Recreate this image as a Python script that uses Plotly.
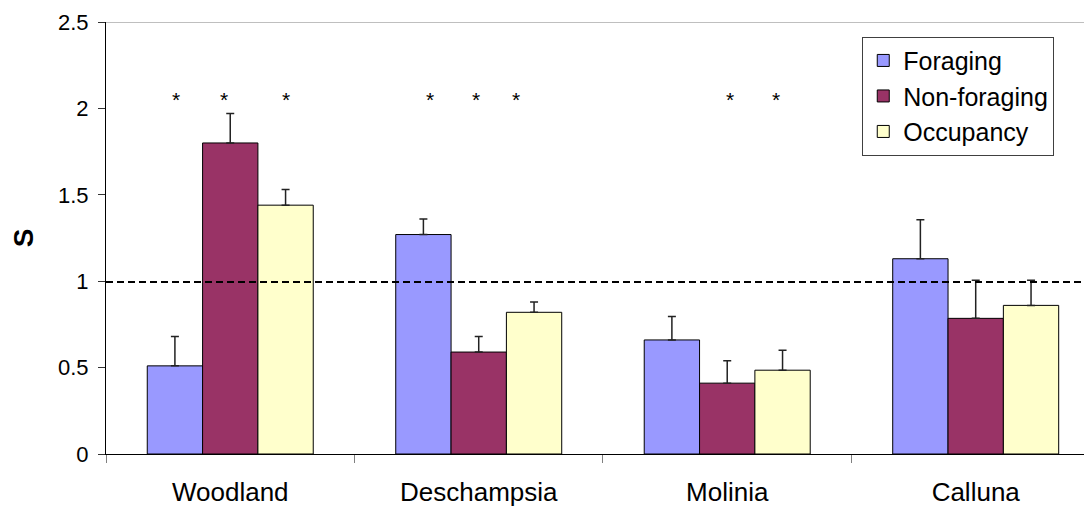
import plotly.graph_objects as go

categories = ["Woodland", "Deschampsia", "Molinia", "Calluna"]
series_names = ["Foraging", "Non-foraging", "Occupancy"]
foraging = [0.51, 1.27, 0.66, 1.13]
foraging_err = [0.17, 0.09, 0.135, 0.225]
nonforaging = [1.80, 0.59, 0.41, 0.785]
nonforaging_err = [0.17, 0.09, 0.13, 0.22]
occupancy = [1.44, 0.82, 0.485, 0.86]
occupancy_err = [0.09, 0.06, 0.115, 0.145]
colors = ["#9999FF", "#993366", "#FFFFCC"]
reference_line = 0.995
star_x = [-0.22, -0.024, 0.224, 0.802, 0.987, 1.151, 2.013, 2.198]
star_y = 2.05
y_ticks = [0, 0.5, 1, 1.5, 2, 2.5]

FONT = "Liberation Sans, Arial, sans-serif"

fig = go.Figure()
for name, vals, errs, col in zip(series_names,
                                 [foraging, nonforaging, occupancy],
                                 [foraging_err, nonforaging_err, occupancy_err],
                                 colors):
    fig.add_trace(go.Bar(
        x=categories, y=vals, name=name, legendgroup=name,
        marker=dict(color=col, line=dict(color="#000000", width=1)),
        error_y=dict(type="data", array=errs, symmetric=False,
                     arrayminus=[0] * len(errs), color="#222222",
                     thickness=1.5, width=4),
    ))

fig.add_shape(type="line", xref="paper", x0=0, x1=1, yref="y",
              y0=reference_line, y1=reference_line,
              line=dict(color="#000000", width=2, dash="7px,4px"))
fig.add_shape(type="line", xref="paper", x0=0, x1=1, yref="y",
              y0=y_ticks[-1], y1=y_ticks[-1],
              line=dict(color="#808080", width=1))

for sx in star_x:
    fig.add_annotation(x=sx, y=star_y, text="*", showarrow=False,
                       font=dict(size=21, color="#000000", family=FONT),
                       xref="x", yref="y")

fig.update_layout(
    width=1084, height=498,
    margin=dict(l=98, r=0, t=14, b=51.5, autoexpand=False),
    paper_bgcolor="white", plot_bgcolor="white",
    barmode="group", bargap=0.332, bargroupgap=0,
    font=dict(family=FONT, color="#000000"),
    legend=dict(x=0.767, y=0.966, xanchor="left", yanchor="top",
                bordercolor="#404040", borderwidth=1, bgcolor="white",
                font=dict(size=25, family=FONT), tracegroupgap=4,
                traceorder="normal"),
    xaxis=dict(range=[-0.5, 3.468], showline=True, linecolor="#000000",
               linewidth=1, ticks="outside", tickson="boundaries",
               ticklen=8, tickcolor="#808080", showgrid=False,
               automargin=False,
               tickfont=dict(size=26, family=FONT), ticklabelstandoff=15),
    yaxis=dict(range=[0, 2.5], tickvals=y_ticks, showline=True,
               linecolor="#000000", linewidth=1, ticks="outside",
               ticklen=7, tickcolor="#333333", showgrid=False,
               zeroline=False, automargin=False,
               tickfont=dict(size=22, family=FONT), ticklabelstandoff=5,
               title=dict(text="<b>S</b>", font=dict(size=28, family=FONT),
                          standoff=24)),
)

fig.write_html("out.html")
